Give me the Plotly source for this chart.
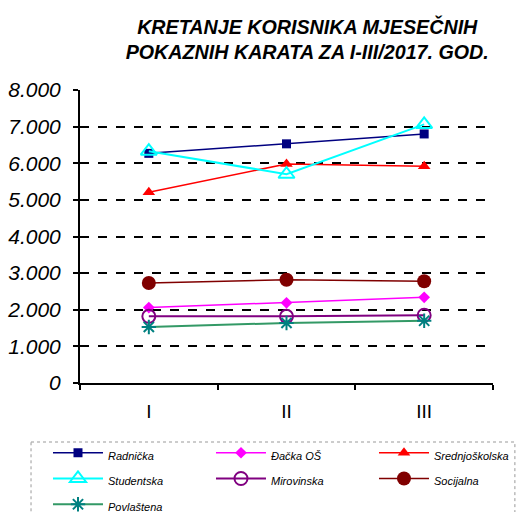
import plotly.graph_objects as go

months = ["I", "II", "III"]
radnicka = [6270, 6530, 6800]
dacka = [2060, 2190, 2340]
srednjoskolska = [5210, 5980, 5920]
studentska = [6330, 5700, 7060]
mirovinska = [1820, 1820, 1850]
socijalna = [2730, 2820, 2780]
povlastena = [1530, 1640, 1700]

series = [
    ("Radnička", radnicka, "#000080", "#000080", "square", 9, 1.5),
    ("Đačka OŠ", dacka, "#FF00FF", "#FF00FF", "diamond", 9, 1.5),
    ("Srednjoškolska", srednjoskolska, "#FF0000", "#FF0000", "triangle-up", 11, 1.5),
    ("Studentska", studentska, "#00FFFF", "#00FFFF", "triangle-up-open", 14, 2),
    ("Mirovinska", mirovinska, "#800080", "#800080", "circle-open", 13, 2),
    ("Socijalna", socijalna, "#800000", "#800000", "circle", 14, 1.5),
    ("Povlaštena", povlastena, "#339966", "#008080", "asterisk-open", 12, 2),
]

FONT = "Arial, Liberation Sans, sans-serif"

fig = go.Figure()
for name, vals, lc, mc, sym, size, lw in series:
    marker = dict(symbol=sym, size=size, color=mc)
    if "open" in sym:
        marker["line"] = dict(color=mc, width=2)
    fig.add_trace(go.Scatter(
        x=months, y=vals, name='<span style="font-size:11px">%s</span>' % name,
        mode="lines+markers",
        line=dict(color=lc, width=lw), marker=marker,
    ))

fig.update_layout(
    width=519, height=512,
    margin=dict(l=80, r=26, t=90, b=129, autoexpand=False),
    paper_bgcolor="white", plot_bgcolor="white",
    separators=",.",
    font=dict(family=FONT, color="black"),
    title=dict(
        text="KRETANJE KORISNIKA MJESEČNIH<br>POKAZNIH KARATA ZA I-III/2017. GOD.",
        x=0.592, xanchor="center", y=0.934, yanchor="middle",
        font=dict(size=19.7, family=FONT, color="black", weight="bold", style="italic"),
    ),
    xaxis=dict(
        type="category", range=[-0.5, 2.5], showline=True, linecolor="black", linewidth=2,
        ticks="outside", tickson="boundaries", ticklen=5, tickcolor="black", tickwidth=2,
        showgrid=False, tickfont=dict(size=19, family=FONT), ticklabelstandoff=10,
        automargin=False,
    ),
    yaxis=dict(
        range=[0, 8000], dtick=1000, tickformat=",d",
        showline=True, linecolor="black", linewidth=2,
        ticks="outside", ticklen=5, tickcolor="black", tickwidth=2,
        showgrid=True, gridcolor="black", gridwidth=1.5, griddash="dash",
        zeroline=False, tickfont=dict(size=21, style="italic", family=FONT),
        ticklabelstandoff=8, automargin=False,
    ),
    legend=dict(
        orientation="h", x=-0.0775, xanchor="left", y=-0.177, yanchor="top",
        entrywidth=98, entrywidthmode="pixels", itemwidth=50,
        font=dict(size=17.5, style="italic", family=FONT),
        bgcolor="rgba(0,0,0,0)",
    ),
    shapes=[dict(
        type="rect", xref="paper", yref="paper",
        x0=-0.1186, x1=1.053, y0=-0.2014, y1=-0.46,
        line=dict(color="#999999", width=1, dash="dot"),
    )],
    showlegend=True,
)

fig.write_html("out.html", config={"displayModeBar": False},
               post_script="document.body.style.margin='0';")
